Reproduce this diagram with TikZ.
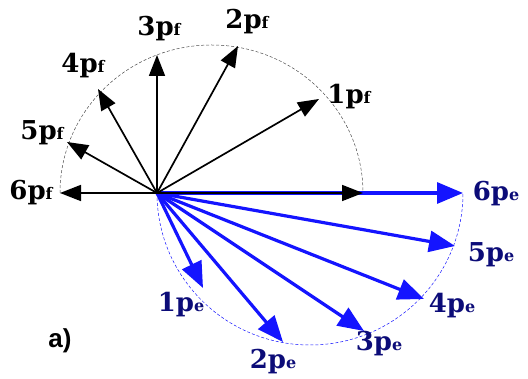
\documentclass[tikz,border=0pt]{standalone}
\usepackage{fontspec}
\setmainfont{DejaVu Serif}
\newfontfamily\labelsans{Liberation Sans}
\usetikzlibrary{arrows.meta}
\definecolor{navylab}{RGB}{12,12,120}
\definecolor{vecblue}{RGB}{20,20,255}
\tikzset{
  fvec/.style={line width=1.7pt,-{Triangle[length=21pt,width=16pt]}},
  evec/.style={line width=3.2pt,vecblue,-{Triangle[length=26pt,width=21pt]}},
  farc/.style={line width=0.5pt,black!70,dash pattern=on 3pt off 2pt},
  earc/.style={line width=0.5pt,vecblue,dash pattern=on 3pt off 2pt},
  flab/.style={font=\fontsize{26}{28}\selectfont\bfseries,inner sep=0pt},
  elab/.style={font=\fontsize{26}{28}\selectfont\bfseries,text=navylab,inner sep=0pt}
}
\newcommand{\sbf}[1]{{\fontsize{16}{16}\selectfont\bfseries #1}}
\begin{document}
\begin{tikzpicture}[x=1pt,y=-1pt]
\useasboundingbox (0,0) rectangle (528,379);
\coordinate (O) at (157,193);
% black tips
\coordinate (f1) at (319,99);
\coordinate (f2) at (238,46);
\coordinate (f3) at (157,55);
\coordinate (f4) at (98,89);
\coordinate (f5) at (67,142);
\coordinate (f6) at (60,193);
\coordinate (f0) at (363,193);
% blue tips
\coordinate (e1) at (203,288);
\coordinate (e2) at (283,342);
\coordinate (e3) at (364,331);
\coordinate (e4) at (424,299);
\coordinate (e5) at (455,246);
\coordinate (e6) at (463,193);
% dashed arcs
\draw[farc] (f6) arc[start angle=180,end angle=0,x radius=151.5pt,y radius=148pt];
\draw[earc] (O) arc[start angle=180,end angle=360,x radius=153pt,y radius=152pt];
% blue vectors
\foreach \t in {e1,e2,e3,e4,e5,e6} \draw[evec] (O) -- (\t);
% black vectors
\foreach \t in {f0,f1,f2,f3,f4,f5,f6} \draw[fvec] (O) -- (\t);
% labels
\node[flab] (l1f) at (349,97) {1p\sbf{f}};
\node[flab] (l2f) at (247,22) {2p\sbf{f}};
\node[flab] (l3f) at (159,29) {3p\sbf{f}};
\node[flab] (l4f) at (83,66) {4p\sbf{f}};
\node[flab] (l5f) at (42,133) {5p\sbf{f}};
\node[flab] (l6f) at (31,193) {6p\sbf{f}};
\node[elab] (l6e) at (496,194) {6p\sbf{e}};
\node[elab] (l5e) at (491,255) {5p\sbf{e}};
\node[elab] (l4e) at (452,306) {4p\sbf{e}};
\node[elab] (l3e) at (379,344) {3p\sbf{e}};
\node[elab] (l2e) at (273,362) {2p\sbf{e}};
\node[elab] (l1e) at (181,305) {1p\sbf{e}};
\node[font=\labelsans\fontsize{26}{28}\selectfont\bfseries,inner sep=0pt] (la) at (60,341) {a)};
\end{tikzpicture}
\end{document}
